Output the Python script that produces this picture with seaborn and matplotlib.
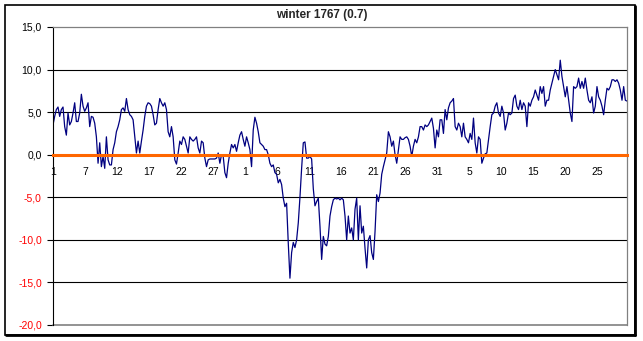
import numpy as np
import pandas as pd
import matplotlib
matplotlib.use("Agg")
import matplotlib.pyplot as plt
import seaborn as sns
from matplotlib.patches import Rectangle

title = "winter 1767 (0.7)"

temps_dec = [3.5, 4.5, 5.3, 5.6, 4.5, 5.3, 5.6, 3.3, 2.3, 4.9, 3.5, 3.9, 4.9, 6.1, 3.9, 3.9,
             4.9, 7.1, 5.7, 5.1, 5.5, 6.1, 3.3, 4.5, 4.4, 3.7, 2.1, -1.0, 1.4, -1.4, -0.2, -1.6,
             2.1, -0.6, -1.2, -1.2, 0.6, 1.4, 2.7, 3.3, 4.1, 5.3, 5.5, 5.1, 6.6, 5.3, 4.7, 4.5,
             4.1, 2.1, 0.2, 1.6, 0.2, 1.6, 2.9, 4.5, 5.7, 6.1, 6.0, 5.7, 4.7, 3.5, 3.7, 5.3,
             6.6, 6.1, 5.7, 6.1, 5.3, 2.7, 2.1, 3.3, 2.1, -0.6, -1.1, 0.2, 1.6, 1.2, 2.1, 1.8,
             1.0, 0.2, 2.1, 1.8, 1.6, 1.8, 2.1, 0.8, 0.2, 1.6, 1.4, -0.4, -1.4, -0.6, -0.5, -0.5,
             -0.5, -0.5, -0.4, 0.2, -1.0, 0.0, -0.2, -2.1, -2.7, -1.0, 0.2, 1.2, 0.8, 1.2, 0.4,
             1.4, 2.3, 2.7, 1.8]
temps_jan = [1.0, 2.1, 1.4, 0.6, -1.4, 2.9, 4.4, 3.7, 2.7, 1.4, 1.2, 1.0, 0.6, 0.6, 0.0, -1.0,
             -1.4, -1.2, -2.1,
             -2.3, -3.3, -2.9, -3.5, -5.1, -6.1, -5.7, -10.4, -14.5, -11.5, -10.3, -10.9, -10.0,
             -8.0, -5.0, -1.6, 1.4, 1.5, -0.4, -0.4, -0.2, -0.5, -4.0, -6.0, -5.5, -5.1, -8.4,
             -12.3, -9.6, -10.5, -10.7, -9.6, -7.2, -6.1, -5.3, -5.1, -5.2, -5.1,
             -5.3, -5.1, -5.3, -7.2, -10.0, -7.2, -9.2, -8.6, -10.0, -6.4, -5.1, -10.0, -6.0,
             -9.2, -8.4, -11.0, -13.3, -10.0, -9.5, -11.5, -12.3, -9.0, -4.7, -5.5, -4.5,
             -2.3, -1.4, -0.6, 0.2, 2.7, 2.1, 1.0, 1.6, 0.0, -1.0, 0.6, 2.1, 1.8, 1.8, 2.0, 2.1,
             1.8, 1.0, -0.2, 1.0, 1.8, 1.4, 2.1, 3.3, 3.3, 2.9, 3.5, 3.3, 3.5, 3.9, 4.3, 3.1,
             0.8, 2.9, 2.1, 4.1, 4.1]
temps_feb = [2.5, 5.3, 4.1, 5.5, 6.1, 6.3, 6.6, 3.3, 2.9, 3.7, 3.3, 2.1, 3.7, 2.1, 1.8, 1.4,
             2.5, 1.8, 4.3, 1.4, 0.2, 2.1, 1.8, -1.0, -0.4, 0.1, 0.2, 1.8, 3.3, 4.7, 4.9, 5.7,
             6.1, 4.9, 4.5, 5.7, 4.9, 2.9, 3.7, 4.9, 4.7, 4.9, 6.6, 7.0, 5.7, 5.3, 6.4, 5.3,
             6.1, 5.7, 3.3, 6.1, 5.7, 6.4, 6.8, 7.6, 7.0, 6.4, 8.0, 7.2, 8.0, 5.7, 6.4, 6.4,
             7.6, 8.4, 9.2, 10.0, 9.4, 8.8, 11.1, 9.2, 8.0, 6.8, 8.0, 6.4, 4.9, 3.9, 8.0, 7.8,
             8.0, 9.0, 7.8, 8.6, 7.8, 9.0, 7.6, 6.4, 6.1, 6.8, 4.9, 5.7, 8.0, 6.8, 6.4, 5.7,
             4.7, 6.4, 7.8, 7.6, 8.0, 8.8, 8.8, 8.6, 8.8, 8.4, 7.6, 6.4, 8.0, 6.4, 6.3]

x_tick_labels = ["1", "7", "12", "17", "22", "27", "1", "6", "11", "16", "21", "26",
                 "31", "5", "10", "15", "20", "25"]
y_ticks = [-20, -15, -10, -5, 0, 5, 10, 15]
grid_levels = [-15, -10, -5, 5, 10]
days_span = 89.6
label_step_days = 5

sns.set_style("white")
plt.rcParams['font.family'] = ['Liberation Sans', 'DejaVu Sans']

temps = temps_dec + temps_jan + temps_feb
n = len(temps)
df = pd.DataFrame({"i": np.arange(n), "t": temps})

fig = plt.figure(figsize=(6.43, 3.41), dpi=100)
ax = fig.add_axes([53 / 643, 1 - 325 / 341, 574 / 643, 298 / 341])

for v in grid_levels:
    ax.axhline(v, color="black", lw=0.8, zorder=1)

sns.lineplot(data=df, x="i", y="t", ax=ax, color="#000080", lw=0.9, zorder=2)

ax.set_xlim(0, n - 1)
ax.set_ylim(-20, 15)
ax.set_xlabel("")
ax.set_ylabel("")

per_day = (n - 1) / days_span
ax.set_xticks([k * label_step_days * per_day for k in range(len(x_tick_labels))])
ax.set_xticklabels(x_tick_labels)
ax.set_yticks(y_ticks)
ax.set_yticklabels([f"{v:.1f}".replace(".", ",") for v in y_ticks])
for lab, v in zip(ax.get_yticklabels(), y_ticks):
    lab.set_color("red" if v < 0 else "black")

ax.spines['bottom'].set_position(('data', 0))
ax.spines['bottom'].set_color("#FF6600")
ax.spines['bottom'].set_linewidth(2.2)
ax.spines['bottom'].set_zorder(3)
ax.spines['left'].set_color("black")
ax.spines['left'].set_linewidth(0.8)
for s in ['top', 'right']:
    ax.spines[s].set_color("#808080")
    ax.spines[s].set_linewidth(0.9)
ax.axhline(-20, color="#808080", lw=1.2, clip_on=False, zorder=1)

ax.tick_params(axis='y', direction='out', length=4, width=0.8, color='black',
               pad=4, labelsize=7.5, left=True)
ax.tick_params(axis='x', length=0, pad=9, labelsize=7.5, colors='black')

fig.add_artist(Rectangle((5 / 643, 1 - 335 / 341), 630 / 643, 330 / 341,
                         transform=fig.transFigure, fill=False, ec='black', lw=1.2))
fig.add_artist(plt.Line2D([635 / 643, 635 / 643], [1 - 335 / 341, 1 - 6 / 341],
                          transform=fig.transFigure, color='black', lw=2.0))
fig.add_artist(plt.Line2D([6 / 643, 635 / 643], [1 - 335 / 341, 1 - 335 / 341],
                          transform=fig.transFigure, color='black', lw=2.0))

fig.text(322 / 643, 1 - 15 / 341, title, ha='center', va='center',
         fontsize=8.5, fontweight='bold')

fig.savefig("out.png", dpi=100)
